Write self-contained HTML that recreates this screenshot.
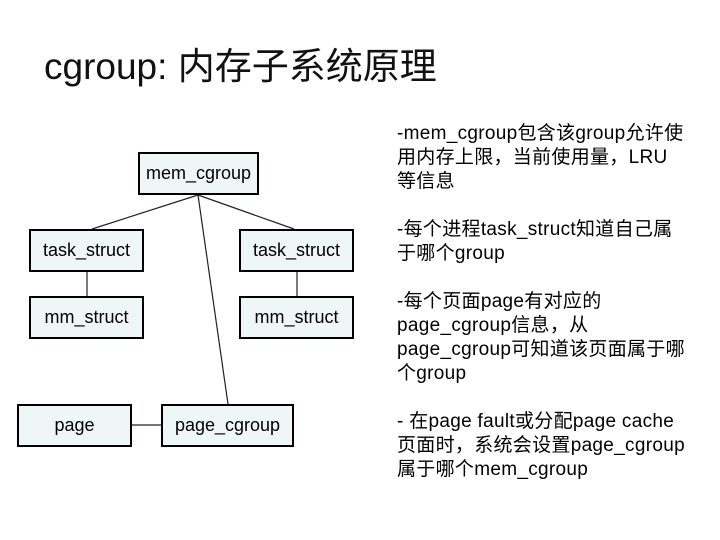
<!DOCTYPE html>
<html><head><meta charset="utf-8"><style>
body{margin:0;width:720px;height:540px;background:#fff;position:relative;overflow:hidden;font-family:"Liberation Sans","Noto Sans CJK SC",sans-serif;}
.t{position:absolute;left:44px;top:44px;font-size:37px;color:#111;white-space:nowrap;line-height:46px;}
.b{position:absolute;box-sizing:border-box;border:2px solid #000;background:#eef6f6;font-size:18px;display:flex;align-items:center;justify-content:center;color:#000;}
.l{position:absolute;left:397px;font-size:19px;letter-spacing:0.3px;white-space:nowrap;line-height:24px;color:#000;}
svg{position:absolute;left:0;top:0;}
</style></head><body>
<div class="t">cgroup: 内存子系统原理</div>
<svg width="720" height="540"><g stroke="#222" stroke-width="1.2">
<line x1="198" y1="195" x2="92" y2="229"/>
<line x1="198" y1="195" x2="294" y2="229"/>
<line x1="198" y1="195" x2="228" y2="404"/>
<line x1="87" y1="271" x2="87" y2="296"/>
<line x1="297" y1="271" x2="297" y2="296"/>
<line x1="131" y1="425" x2="162" y2="425"/>
</g></svg>
<div class="b" style="left:138px;top:152px;width:121px;height:43px">mem_cgroup</div>
<div class="b" style="left:29px;top:229px;width:115px;height:43px">task_struct</div>
<div class="b" style="left:239px;top:229px;width:115px;height:43px">task_struct</div>
<div class="b" style="left:29px;top:296px;width:115px;height:43px">mm_struct</div>
<div class="b" style="left:239px;top:296px;width:115px;height:43px">mm_struct</div>
<div class="b" style="left:17px;top:404px;width:115px;height:43px">page</div>
<div class="b" style="left:161px;top:404px;width:133px;height:43px">page_cgroup</div>
<div class="l" style="top:122px">-mem_cgroup包含该group允许使</div>
<div class="l" style="top:146px">用内存上限，当前使用量，LRU</div>
<div class="l" style="top:170px">等信息</div>
<div class="l" style="top:218px">-每个进程task_struct知道自己属</div>
<div class="l" style="top:242px">于哪个group</div>
<div class="l" style="top:290px">-每个页面page有对应的</div>
<div class="l" style="top:314px">page_cgroup信息，从</div>
<div class="l" style="top:338px">page_cgroup可知道该页面属于哪</div>
<div class="l" style="top:362px">个group</div>
<div class="l" style="top:410px">- 在page fault或分配page cache</div>
<div class="l" style="top:434px">页面时，系统会设置page_cgroup</div>
<div class="l" style="top:458px">属于哪个mem_cgroup</div>
</body></html>
